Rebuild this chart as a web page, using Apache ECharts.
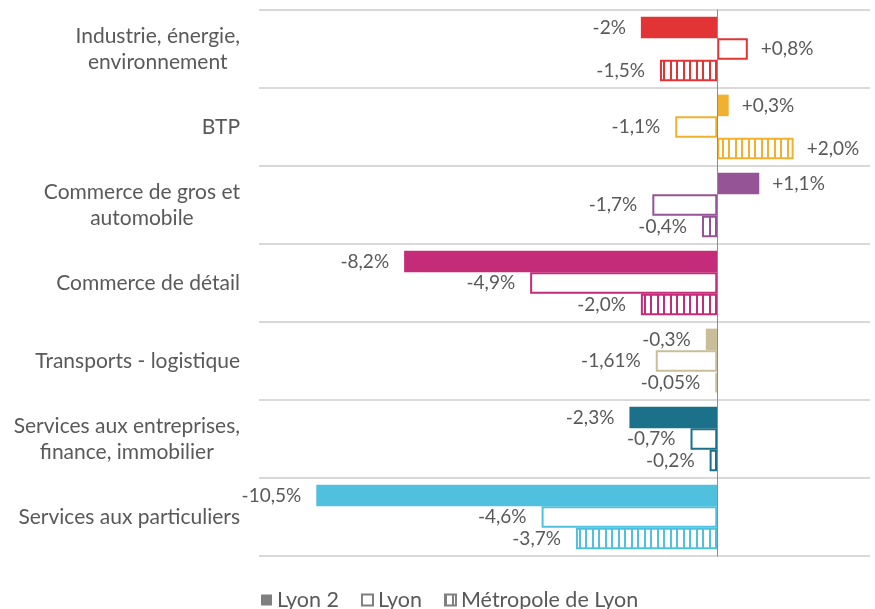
<!DOCTYPE html>
<html>
<head>
<meta charset="utf-8">
<script src="https://cdn.jsdelivr.net/npm/echarts@6/dist/echarts.min.js"></script>
<style>
  html, body { margin: 0; padding: 0; background: #fff; }
  #chart { width: 875px; height: 609px; }
</style>
</head>
<body>
<div id="chart"></div>
<script>
// Sectors, top to bottom
const categories = [
  'Industrie, énergie,\nenvironnement',
  'BTP',
  'Commerce de gros et\nautomobile',
  'Commerce de détail',
  'Transports - logistique',
  'Services aux entreprises,\nfinance, immobilier',
  'Services aux particuliers'
];
const seriesNames = ['Lyon 2', 'Lyon', 'Métropole de Lyon'];

// Change rates (%) per territory
const lyon2 = [-2, 0.3, 1.1, -8.2, -0.3, -2.3, -10.5];
const lyon = [0.8, -1.1, -1.7, -4.9, -1.61, -0.7, -4.6];
const metropole = [-1.5, 2.0, -0.4, -2.0, -0.05, -0.2, -3.7];

// Printed value labels
const lyon2Labels = ['-2%', '+0,3%', '+1,1%', '-8,2%', '-0,3%', '-2,3%', '-10,5%'];
const lyonLabels = ['+0,8%', '-1,1%', '-1,7%', '-4,9%', '-1,61%', '-0,7%', '-4,6%'];
const metropoleLabels = ['-1,5%', '+2,0%', '-0,4%', '-2,0%', '-0,05%', '-0,2%', '-3,7%'];

// One colour per sector
const sectorColors = ['#E23434', '#F0B130', '#955495', '#C42B79', '#C9BE97', '#1C718A', '#4FC1DE'];

const FONT = 'Lato, "Open Sans", sans-serif';
const TEXT = '#595959';

// Vertical hatch fill used for the metropolitan series
function hatch(color) {
  const c = document.createElement('canvas');
  c.width = 13; c.height = 8;
  const ctx = c.getContext('2d');
  ctx.fillStyle = '#fff';
  ctx.fillRect(0, 0, 13, 8);
  ctx.fillStyle = color;
  ctx.fillRect(0, 0, 2, 8);
  ctx.fillRect(7, 0, 2, 8);
  return { image: c, repeat: 'repeat' };
}

function labelFor(v, text) {
  return {
    show: true,
    position: v < 0 ? 'left' : 'right',
    distance: v < 0 ? 15 : 13,
    formatter: text,
    color: TEXT,
    fontSize: 19,
    fontFamily: FONT
  };
}

const solidData = lyon2.map((v, i) => ({
  value: v,
  itemStyle: { color: sectorColors[i] },
  label: labelFor(v, lyon2Labels[i])
}));
const outlineData = lyon.map((v, i) => ({
  value: v,
  itemStyle: { color: '#fff', borderColor: sectorColors[i], borderWidth: 2 },
  label: labelFor(v, lyonLabels[i])
}));
const hatchData = metropole.map((v, i) => ({
  value: v,
  itemStyle: { color: hatch(sectorColors[i]), borderColor: sectorColors[i], borderWidth: 2 },
  label: labelFor(v, metropoleLabels[i])
}));

const chart = echarts.init(document.getElementById('chart'), null, { renderer: 'canvas' });

chart.setOption({
  animation: false,
  textStyle: { fontFamily: FONT },
  grid: { left: 259, right: 5, top: 10, bottom: 53, containLabel: false },
  xAxis: {
    type: 'value',
    min: -12,
    max: 4,
    axisLabel: { show: false },
    axisLine: { show: false },
    axisTick: { show: false },
    splitLine: { show: false }
  },
  yAxis: {
    type: 'category',
    data: categories,
    inverse: true,
    z: 3,
    axisTick: { show: false },
    axisLine: { show: true, onZero: true, lineStyle: { color: '#8c8c8c', width: 1 } },
    splitLine: { show: true, lineStyle: { color: '#d9d9d9', width: 2 } },
    axisLabel: {
      margin: 19,
      align: 'right',
      formatter: v => v.split('\n').map(l => '{c|' + l + '}').join('\n'),
      rich: {
        c: { align: 'center', fontSize: 21, lineHeight: 26, color: TEXT, fontFamily: FONT }
      }
    }
  },
  legend: {
    left: 256,
    top: 584,
    itemWidth: 11,
    itemHeight: 11,
    itemGap: 22,
    textStyle: { color: TEXT, fontSize: 21.5, fontFamily: FONT },
    data: [
      { name: seriesNames[0], icon: 'rect', itemStyle: { color: '#7f7f7f', borderWidth: 0 } },
      { name: seriesNames[1], icon: 'rect', itemStyle: { color: '#fff', borderColor: '#7f7f7f', borderWidth: 2 } },
      { name: seriesNames[2], icon: 'rect', itemStyle: { color: hatch('#7f7f7f'), borderColor: '#7f7f7f', borderWidth: 2 } }
    ]
  },
  series: [
    {
      name: seriesNames[0], type: 'bar', data: solidData,
      barGap: '0%', barCategoryGap: '17%',
      itemStyle: { color: '#7f7f7f' }
    },
    {
      name: seriesNames[1], type: 'bar', data: outlineData,
      barGap: '0%', barCategoryGap: '17%',
      itemStyle: { color: '#fff', borderColor: '#7f7f7f', borderWidth: 2 }
    },
    {
      name: seriesNames[2], type: 'bar', data: hatchData,
      barGap: '0%', barCategoryGap: '17%',
      itemStyle: { color: hatch('#7f7f7f'), borderColor: '#7f7f7f', borderWidth: 2 }
    }
  ]
});
</script>
</body>
</html>
